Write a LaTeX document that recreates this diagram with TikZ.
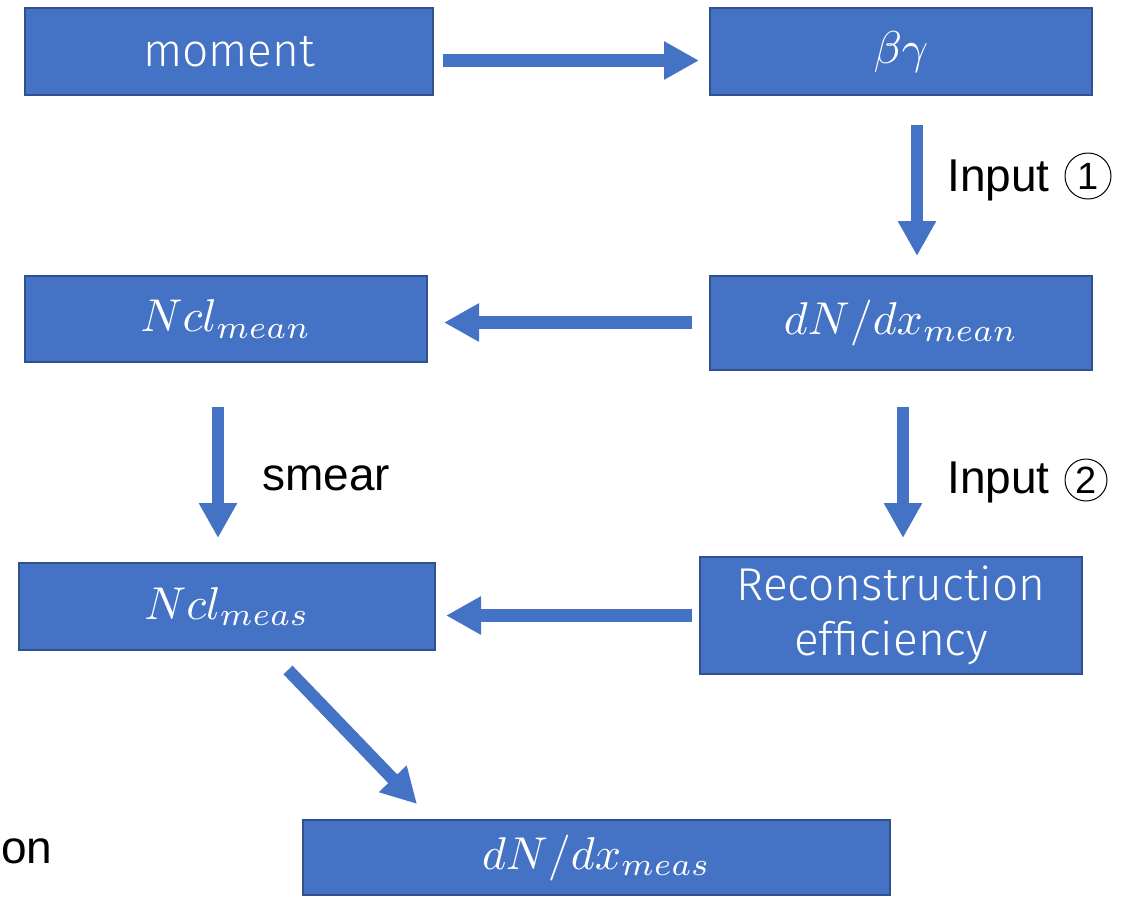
\documentclass[tikz,border=0pt]{standalone}
\usepackage{graphicx}
\usepackage{fontspec}
\newfontfamily\labfont{Liberation Sans}
\newfontfamily\boxfont{Fira Sans Light}
\usetikzlibrary{arrows.meta}
\definecolor{boxfill}{HTML}{4472C4}
\definecolor{boxline}{HTML}{2F528F}
\tikzset{
  flowbox/.style={rectangle, draw=boxline, fill=boxfill, line width=1pt,
    inner sep=0pt, text=white, align=center,
    font=\boxfont\fontsize{23}{27.5}\selectfont},
  flowarrow/.style={draw=boxfill, line width=6.25pt,
    -{Triangle[length=17.5pt,width=18pt]}},
  sidelabel/.style={inner sep=0pt, text=black,
    font=\labfont\fontsize{23}{27}\selectfont},
  stepmark/.style={circle, draw=black, line width=0.5pt, inner sep=0pt,
    text=black, font=\labfont\fontsize{19}{19}\selectfont}
}
% math labels: set at 10pt and enlarged as a whole
\newcommand{\mtext}[1]{{\fontsize{10}{12}\selectfont\scalebox{2.3}{$#1$}}}
\begin{document}
\begin{tikzpicture}[x=0.5pt, y=-0.5pt]
  \useasboundingbox (0,0) rectangle (1132,896);

  % process boxes
  \node[flowbox, minimum width=204pt, minimum height=43.5pt] (moment) at (229,51.5) {moment};
  \node[flowbox, minimum width=191pt, minimum height=43.5pt] (bg) at (901,51.5) {\mtext{\beta\gamma}};
  \node[flowbox, minimum width=201pt, minimum height=43pt] (nmean) at (226,319) {\mtext{Ncl_{mean}}};
  \node[flowbox, minimum width=191pt, minimum height=47pt] (dmean) at (901,323) {\mtext{dN/dx_{mean}}};
  \node[flowbox, minimum width=208pt, minimum height=43.5pt] (nmeas) at (227,606.5) {\mtext{Ncl_{meas}}};
  \node[flowbox, minimum width=191pt, minimum height=58.5pt] (reco) at (891,615.5) {Reconstruction\\efficiency};
  \node[flowbox, minimum width=293.5pt, minimum height=37.5pt] (dmeas) at (596.5,857.5) {\mtext{dN/dx_{meas}}};

  % connectors
  \draw[flowarrow] ([shift={(9,9)}]moment.east) -- ([shift={(-10,9)}]bg.west);
  \draw[flowarrow] ([shift={(16,29)}]bg.south) -- ([shift={(16,-19)}]dmean.north);
  \draw[flowarrow] ([shift={(-17,-0.5)}]dmean.west) -- ([shift={(16,3.5)}]nmean.east);
  \draw[flowarrow] ([shift={(-8,44)}]nmean.south) -- ([shift={(-9,-24)}]nmeas.north);
  \draw[flowarrow] ([shift={(2,36)}]dmean.south) -- ([shift={(12,-18)}]reco.north);
  \draw[flowarrow] ([shift={(-7,0)}]reco.west) -- ([shift={(10,9)}]nmeas.east);
  \draw[flowarrow] ([shift={(61,19)}]nmeas.south) -- ([shift={(-179.5,-15)}]dmeas.north);

  % side labels
  \node[sidelabel, anchor=base west] (in1) at (947,191) {Input};
  \node[stepmark, minimum size=23pt] (c1) at (1088,176) {1};
  \node[sidelabel, anchor=base west] (in2) at (947,493) {Input};
  \node[stepmark, minimum size=21pt] (c2) at (1086,480) {2};
  \node[sidelabel, anchor=base west] (smear) at (262,490) {smear};
  \node[sidelabel, anchor=base west] (on) at (1,863) {on};
\end{tikzpicture}
\end{document}
